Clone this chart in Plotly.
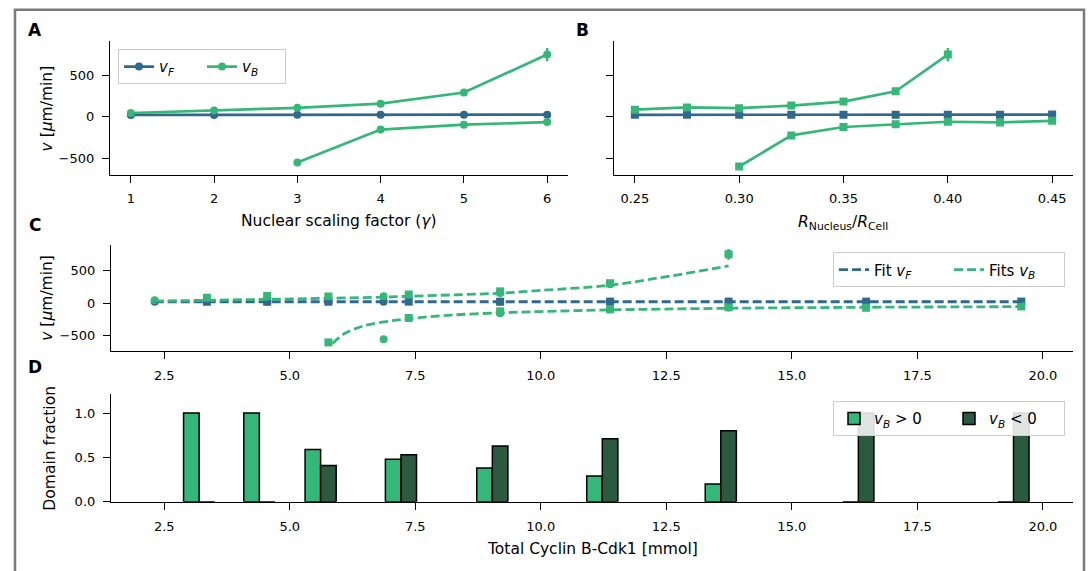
import plotly.graph_objects as go

W, H = 1088, 571

# ---------------- data ----------------
# Panel A: nuclear scaling factor
gamma = [1, 2, 3, 4, 5, 6]
gamma_vF = [24, 24, 26, 26, 25, 27]
gamma_vF_err = [4, 4, 4, 4, 4, 4]
gamma_pos = [1, 2, 3, 4, 5, 6]
gamma_vB_pos = [47, 78, 110, 160, 295, 754]
gamma_vB_pos_err = [5, 5, 6, 8, 14, 80]
gamma_neg = [3, 4, 5, 6]
gamma_vB_neg = [-553, -153, -94, -63]
gamma_vB_neg_err = [12, 8, 6, 6]

# Panel B: R_nucleus / R_cell
ratio = [0.25, 0.275, 0.30, 0.325, 0.35, 0.375, 0.40, 0.425, 0.45]
ratio_vF = [25, 26, 26, 27, 26, 27, 27, 27, 28]
ratio_vF_err = [4, 4, 4, 4, 4, 4, 4, 4, 4]
ratio_pos = [0.25, 0.275, 0.30, 0.325, 0.35, 0.375, 0.40]
ratio_vB_pos = [87, 114, 106, 137, 185, 310, 754]
ratio_vB_pos_err = [5, 5, 5, 6, 10, 15, 80]
ratio_neg = [0.30, 0.325, 0.35, 0.375, 0.40, 0.425, 0.45]
ratio_vB_neg = [-600, -224, -122, -90, -59, -67, -47]
ratio_vB_neg_err = [15, 10, 6, 5, 5, 5, 5]

# Total Cyclin B-Cdk1 corresponding to each parameter value
cyclin_of_gamma = [2.31, 4.55, 6.87, 9.19, 11.38, 13.74]
cyclin_of_ratio = [3.35, 4.55, 5.77, 7.37, 9.19, 11.38, 13.74, 16.48, 19.57]

# Panel C: fitted curves
fit_vF_x = [2.31, 19.57]
fit_vF_y = [25, 25]
fit_vB_pos_x = [2.31, 4.55, 5.77, 6.87, 7.37, 8.3, 9.19, 10.0, 11.38, 12.57, 13.74]
fit_vB_pos_y = [36, 62, 80, 96, 110, 132, 157, 200, 280, 420, 575]
fit_vB_neg_x = [5.85, 6.1, 6.5, 7.0, 7.37, 8.2, 9.19, 10.0, 11.38, 13.74, 16.48, 19.57]
fit_vB_neg_y = [-615, -460, -340, -270, -235, -180, -145, -125, -100, -75, -60, -50]

# Panel D: domain fractions at each cyclin level (from panel B runs)
frac_pos = [1.0, 1.0, 0.59, 0.48, 0.38, 0.29, 0.20, 0.0, 0.0]
frac_neg = [0.0, 0.0, 0.41, 0.53, 0.63, 0.71, 0.80, 1.0, 1.0]

ctick_vals = [2.5, 5.0, 7.5, 10.0, 12.5, 15.0, 17.5, 20.0]
btick_vals = [0.25, 0.30, 0.35, 0.40, 0.45]
vtick_vals = [-500, 0, 500]
dtick_vals = [0.0, 0.5, 1.0]

# ---------------- style ----------------
BLUE = "#31688e"
GREEN = "#35b779"
DARK = "#2b5a41"
FONT = "DejaVu Sans"
LW = 2.7

def lookup(src_keys, src_vals, keys):
    m = dict(zip(src_keys, src_vals))
    return [m[k] for k in keys]

fig = go.Figure()

def err(arr, color):
    return dict(type="data", array=arr, visible=True, color=color, thickness=2.4, width=0)

# ---- Panel A ----
fig.add_trace(go.Scatter(x=gamma, y=gamma_vF, error_y=err(gamma_vF_err, BLUE),
                         mode="lines+markers", line=dict(color=BLUE, width=LW),
                         marker=dict(symbol="circle", size=8, color=BLUE),
                         name="<i>v</i><sub><i>F</i></sub>", legend="legend",
                         xaxis="x", yaxis="y"))
fig.add_trace(go.Scatter(x=gamma_pos, y=gamma_vB_pos, error_y=err(gamma_vB_pos_err, GREEN),
                         mode="lines+markers", line=dict(color=GREEN, width=LW),
                         marker=dict(symbol="circle", size=8, color=GREEN),
                         name="<i>v</i><sub><i>B</i></sub>", legend="legend",
                         xaxis="x", yaxis="y"))
fig.add_trace(go.Scatter(x=gamma_neg, y=gamma_vB_neg, error_y=err(gamma_vB_neg_err, GREEN),
                         mode="lines+markers", line=dict(color=GREEN, width=LW),
                         marker=dict(symbol="circle", size=8, color=GREEN),
                         showlegend=False, xaxis="x", yaxis="y"))

# ---- Panel B ----
fig.add_trace(go.Scatter(x=ratio, y=ratio_vF, error_y=err(ratio_vF_err, BLUE),
                         mode="lines+markers", line=dict(color=BLUE, width=LW),
                         marker=dict(symbol="square", size=8, color=BLUE),
                         showlegend=False, xaxis="x2", yaxis="y2"))
fig.add_trace(go.Scatter(x=ratio_pos, y=ratio_vB_pos, error_y=err(ratio_vB_pos_err, GREEN),
                         mode="lines+markers", line=dict(color=GREEN, width=LW),
                         marker=dict(symbol="square", size=8, color=GREEN),
                         showlegend=False, xaxis="x2", yaxis="y2"))
fig.add_trace(go.Scatter(x=ratio_neg, y=ratio_vB_neg, error_y=err(ratio_vB_neg_err, GREEN),
                         mode="lines+markers", line=dict(color=GREEN, width=LW),
                         marker=dict(symbol="square", size=8, color=GREEN),
                         showlegend=False, xaxis="x2", yaxis="y2"))

# ---- Panel C: data markers ----
c_sets = [
    (lookup(gamma, cyclin_of_gamma, gamma), gamma_vF, gamma_vF_err, BLUE, "circle"),
    (lookup(gamma, cyclin_of_gamma, gamma_pos), gamma_vB_pos, gamma_vB_pos_err, GREEN, "circle"),
    (lookup(gamma, cyclin_of_gamma, gamma_neg), gamma_vB_neg, gamma_vB_neg_err, GREEN, "circle"),
    (lookup(ratio, cyclin_of_ratio, ratio), ratio_vF, ratio_vF_err, BLUE, "square"),
    (lookup(ratio, cyclin_of_ratio, ratio_pos), ratio_vB_pos, ratio_vB_pos_err, GREEN, "square"),
    (lookup(ratio, cyclin_of_ratio, ratio_neg), ratio_vB_neg, ratio_vB_neg_err, GREEN, "square"),
]
for xs, ys, es, col, sym in c_sets:
    fig.add_trace(go.Scatter(x=xs, y=ys, error_y=err(es, col), mode="markers",
                             marker=dict(symbol=sym, size=8, color=col),
                             showlegend=False, xaxis="x3", yaxis="y3"))

DASH = "9px,4px"
fig.add_trace(go.Scatter(x=fit_vF_x, y=fit_vF_y, mode="lines",
                         line=dict(color=BLUE, width=2.8, dash=DASH),
                         name="Fit <i>v</i><sub><i>F</i></sub>", legend="legend2",
                         xaxis="x3", yaxis="y3"))
fig.add_trace(go.Scatter(x=fit_vB_pos_x, y=fit_vB_pos_y, mode="lines",
                         line=dict(color=GREEN, width=2.8, dash=DASH, shape="spline"),
                         name="Fits <i>v</i><sub><i>B</i></sub>", legend="legend2",
                         xaxis="x3", yaxis="y3"))
fig.add_trace(go.Scatter(x=fit_vB_neg_x, y=fit_vB_neg_y, mode="lines",
                         line=dict(color=GREEN, width=2.8, dash=DASH, shape="spline"),
                         showlegend=False, xaxis="x3", yaxis="y3"))

# ---- Panel D ----
BW = 0.31
fig.add_trace(go.Bar(x=cyclin_of_ratio, y=frac_pos, width=BW, offset=-1.5 * BW,
                     marker=dict(color=GREEN, line=dict(color="black", width=1.5)),
                     name="<i>v</i><sub><i>B</i></sub> > 0", legend="legend3",
                     xaxis="x4", yaxis="y4"))
fig.add_trace(go.Bar(x=cyclin_of_ratio, y=frac_neg, width=BW, offset=-0.5 * BW,
                     marker=dict(color=DARK, line=dict(color="black", width=1.5)),
                     name="<i>v</i><sub><i>B</i></sub> < 0", legend="legend3",
                     xaxis="x4", yaxis="y4"))

# ---------------- layout ----------------
def px_x(a, b):
    return [a / W, b / W]

def px_y(top, bottom):
    return [1 - bottom / H, 1 - top / H]

axis_common = dict(showline=True, linecolor="black", linewidth=1.2, ticks="outside",
                   ticklen=7, tickwidth=1.2, tickcolor="black", showgrid=False,
                   zeroline=False, tickfont=dict(family=FONT, size=13, color="black"),
                   ticklabelstandoff=5, mirror=False)

leg_common = dict(orientation="h", bordercolor="#cccccc", borderwidth=1,
                  bgcolor="rgba(255,255,255,0.85)", traceorder="normal",
                  font=dict(family=FONT, size=15, color="black"),
                  itemwidth=30, tracegroupgap=0)

fig.update_layout(
    width=W, height=H, margin=dict(l=0, r=0, t=0, b=0),
    paper_bgcolor="white", plot_bgcolor="white",
    font=dict(family=FONT, color="black"),
    barmode="overlay",
    xaxis=dict(domain=px_x(110, 568), range=[0.75, 6.25], tickvals=gamma, anchor="y", **axis_common),
    yaxis=dict(domain=px_y(42, 177), range=[-697, 913], tickvals=vtick_vals, anchor="x", **axis_common),
    xaxis2=dict(domain=px_x(614, 1073), range=[0.24, 0.46], tickvals=btick_vals, tickformat=".2f",
                anchor="y2", **axis_common),
    yaxis2=dict(domain=px_y(42, 177), range=[-697, 913], tickvals=vtick_vals, showticklabels=False,
                anchor="x2", **axis_common),
    xaxis3=dict(domain=px_x(111, 1073), range=[1.44, 20.6], tickvals=ctick_vals, tickformat=".1f",
                anchor="y3", **axis_common),
    yaxis3=dict(domain=px_y(248, 356), range=[-732, 905], tickvals=vtick_vals, anchor="x3", **axis_common),
    xaxis4=dict(domain=px_x(111, 1073), range=[1.44, 20.6], tickvals=ctick_vals, tickformat=".1f",
                anchor="y4", **axis_common),
    yaxis4=dict(domain=px_y(400, 509), range=[0, 1.21], tickvals=dtick_vals, tickformat=".1f",
                anchor="x4", **axis_common),
    legend=dict(x=118 / W, y=1 - 50 / H, xanchor="left", yanchor="top", entrywidth=38, **leg_common),
    legend2=dict(x=1065 / W, y=1 - 256 / H, xanchor="right", yanchor="top", entrywidth=70, **leg_common),
    legend3=dict(x=1065 / W, y=1 - 407 / H, xanchor="right", yanchor="top", entrywidth=70, **leg_common),
)

ann = []
def label(text, x, y, size=15.5, angle=0, bold=False):
    ann.append(dict(text=("<b>%s</b>" % text) if bold else text, x=x / W, y=1 - y / H,
                    xref="paper", yref="paper", showarrow=False, textangle=angle,
                    xanchor="center", yanchor="middle",
                    font=dict(family=FONT, size=size, color="black")))

label("A", 35, 30, 17, bold=True)
label("B", 582, 30, 17, bold=True)
label("C", 35, 228, 17, bold=True)
label("D", 35, 372, 17, bold=True)
label("<i>v</i> [<i>μ</i>m/min]", 47, 110, angle=-90)
label("<i>v</i> [<i>μ</i>m/min]", 47, 302, angle=-90)
label("Domain fraction", 50, 455, angle=-90)
label("Nuclear scaling factor (<i>γ</i>)", 339, 224)
label("<i>R</i><sub>Nucleus</sub>/<i>R</i><sub>Cell</sub>", 843, 226)
label("Total Cyclin B-Cdk1 [mmol]", 592, 557)
fig.update_layout(annotations=ann)

# figure frame
fig.add_shape(type="rect", xref="paper", yref="paper",
              x0=15 / W, x1=1084 / W, y0=-0.05, y1=1 - 10 / H,
              line=dict(color="#7a7a7a", width=2.5), fillcolor="rgba(0,0,0,0)", layer="below")

fig.write_html("out.html")
